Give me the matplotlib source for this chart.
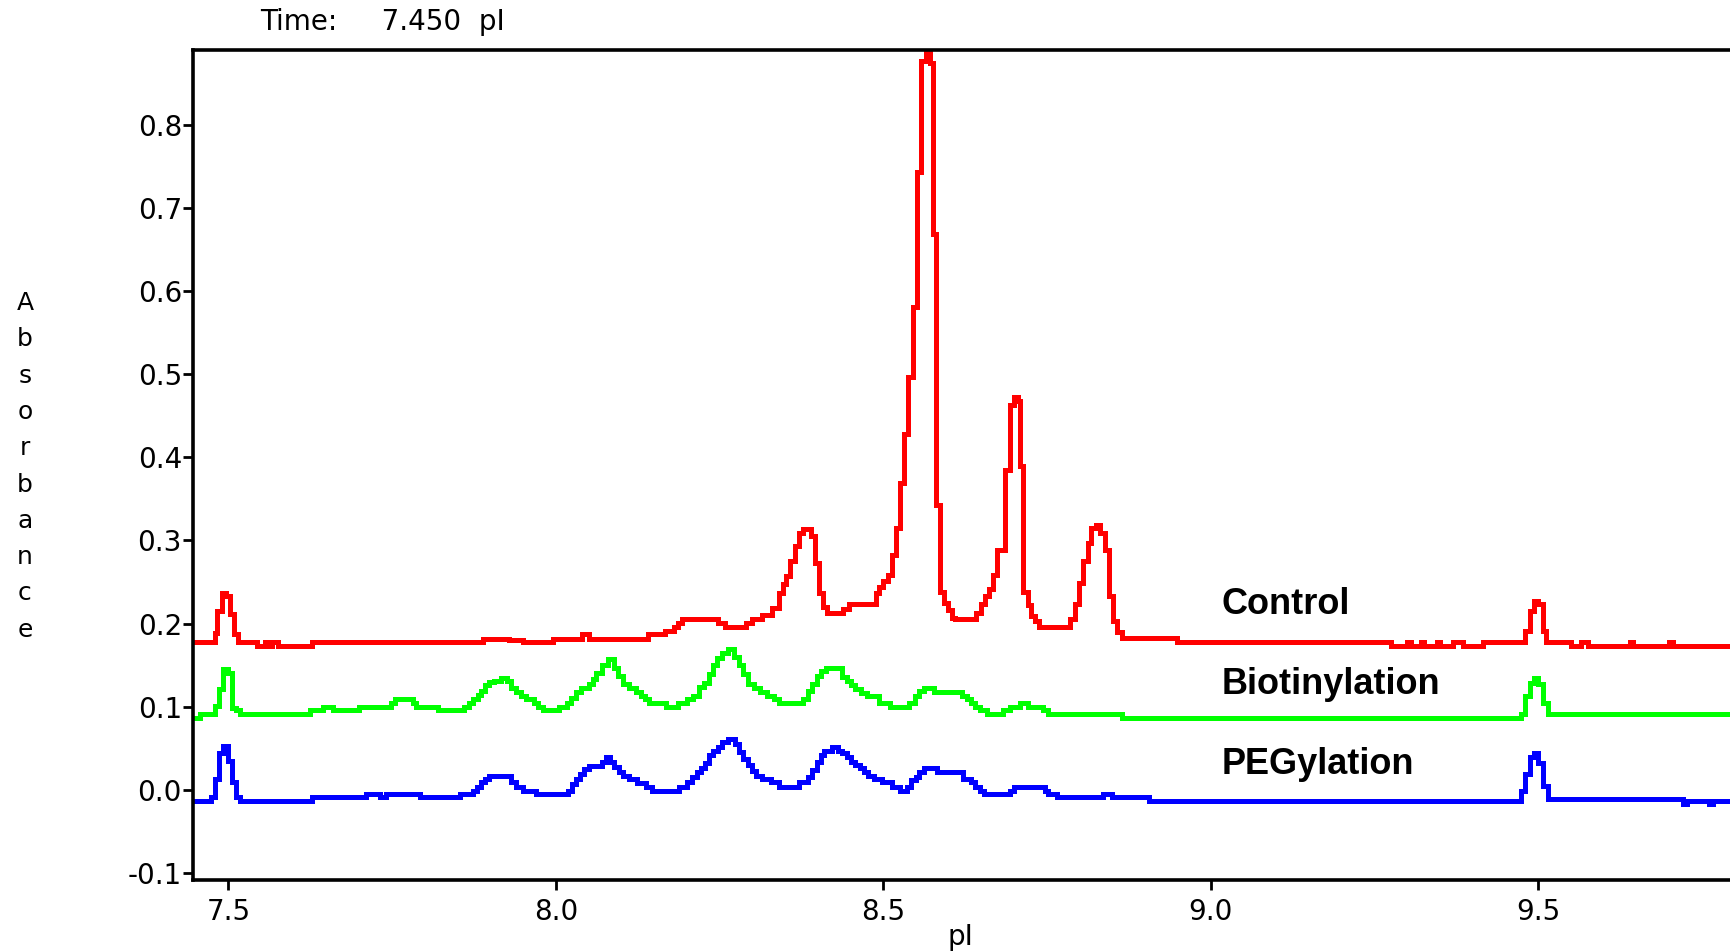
import matplotlib
matplotlib.use("Agg")
import matplotlib.pyplot as plt

#control trace (red), step values
control_pi = [
    7.446, 7.479, 7.483, 7.490, 7.496, 7.502, 7.509, 7.515,
    7.543, 7.556, 7.562, 7.567, 7.576, 7.627, 7.888, 7.929, 7.950,
    7.995, 8.040, 8.050, 8.140, 8.166, 8.180, 8.187, 8.193,
    8.248, 8.258, 8.290, 8.300, 8.315, 8.330, 8.340, 8.346,
    8.352, 8.358, 8.365, 8.371, 8.377, 8.389, 8.396, 8.402,
    8.408, 8.414, 8.438, 8.447, 8.488, 8.494, 8.500, 8.507,
    8.513, 8.519, 8.525, 8.532, 8.538, 8.545, 8.552, 8.558,
    8.565, 8.571, 8.575, 8.581, 8.587, 8.593, 8.599, 8.605,
    8.610, 8.642, 8.649, 8.655, 8.661, 8.667, 8.674, 8.686,
    8.693, 8.700, 8.706, 8.709, 8.713, 8.720, 8.726, 8.732,
    8.737, 8.785, 8.792, 8.798, 8.805, 8.812, 8.817, 8.824,
    8.831, 8.838, 8.844, 8.850, 8.857, 8.864, 8.948, 9.275,
    9.300, 9.305, 9.320, 9.325, 9.345, 9.350, 9.370, 9.385, 9.415,
    9.479, 9.487, 9.494, 9.500, 9.507, 9.512, 9.550, 9.565, 9.575,
    9.640, 9.645, 9.700, 9.705, 9.800]
control_abs = [
    0.178, 0.189, 0.215, 0.237, 0.233, 0.211, 0.187, 0.178,
    0.173, 0.178, 0.173, 0.178, 0.173, 0.178, 0.182, 0.180, 0.178,
    0.182, 0.187, 0.182, 0.187, 0.191, 0.196, 0.201, 0.205,
    0.201, 0.196, 0.201, 0.205, 0.210, 0.219, 0.237, 0.248,
    0.257, 0.275, 0.293, 0.309, 0.314, 0.305, 0.273, 0.237,
    0.220, 0.213, 0.218, 0.223, 0.237, 0.244, 0.251, 0.259,
    0.283, 0.315, 0.369, 0.428, 0.497, 0.581, 0.743, 0.877,
    0.895, 0.874, 0.669, 0.343, 0.238, 0.225, 0.216, 0.207,
    0.205, 0.213, 0.223, 0.233, 0.241, 0.259, 0.289, 0.385,
    0.463, 0.473, 0.468, 0.390, 0.238, 0.222, 0.209, 0.203,
    0.196, 0.206, 0.224, 0.249, 0.275, 0.297, 0.315, 0.319,
    0.309, 0.289, 0.233, 0.203, 0.190, 0.183, 0.178, 0.173,
    0.178, 0.173, 0.178, 0.173, 0.178, 0.173, 0.178, 0.173, 0.178,
    0.191, 0.215, 0.227, 0.224, 0.191, 0.178, 0.173, 0.178, 0.173,
    0.178, 0.173, 0.178, 0.173, 0.173]

#biotinylation trace (green)
biotin_pi = [
    7.446, 7.456, 7.479, 7.486, 7.492, 7.499, 7.505, 7.511, 7.517,
    7.624, 7.645, 7.660, 7.700, 7.749, 7.754, 7.782, 7.787, 7.820,
    7.860, 7.868, 7.874, 7.881, 7.886, 7.892, 7.898, 7.906,
    7.916, 7.925, 7.931, 7.939, 7.946, 7.954, 7.966, 7.972,
    7.980, 8.005, 8.017, 8.023, 8.031, 8.038, 8.051, 8.057,
    8.062, 8.070, 8.080, 8.089, 8.095, 8.102, 8.112, 8.122,
    8.130, 8.136, 8.142, 8.168, 8.186, 8.200, 8.210, 8.218,
    8.226, 8.234, 8.240, 8.246, 8.253, 8.262, 8.272, 8.280,
    8.286, 8.293, 8.302, 8.312, 8.323, 8.333, 8.340, 8.378,
    8.385, 8.391, 8.398, 8.404, 8.412, 8.437, 8.445, 8.451,
    8.457, 8.466, 8.475, 8.493, 8.510, 8.539, 8.549, 8.555,
    8.562, 8.577, 8.620, 8.628, 8.634, 8.640, 8.648, 8.658,
    8.683, 8.694, 8.709, 8.720, 8.744, 8.752, 8.864, 9.474,
    9.480, 9.487, 9.494, 9.500, 9.507, 9.514, 9.800]
biotin_abs = [
    0.086, 0.091, 0.101, 0.121, 0.145, 0.141, 0.098, 0.096, 0.091,
    0.096, 0.100, 0.096, 0.100, 0.105, 0.109, 0.105, 0.100, 0.096,
    0.100, 0.105, 0.109, 0.114, 0.119, 0.126, 0.130, 0.131,
    0.135, 0.131, 0.122, 0.118, 0.113, 0.109, 0.104, 0.100,
    0.096, 0.100, 0.105, 0.111, 0.118, 0.122, 0.127, 0.133,
    0.141, 0.150, 0.157, 0.146, 0.137, 0.127, 0.122, 0.118,
    0.113, 0.109, 0.105, 0.100, 0.105, 0.109, 0.113, 0.124,
    0.129, 0.139, 0.150, 0.159, 0.165, 0.169, 0.160, 0.150,
    0.139, 0.127, 0.122, 0.118, 0.113, 0.109, 0.104, 0.109,
    0.119, 0.127, 0.137, 0.143, 0.147, 0.136, 0.131, 0.126,
    0.121, 0.117, 0.113, 0.105, 0.100, 0.105, 0.113, 0.119,
    0.122, 0.118, 0.113, 0.109, 0.104, 0.100, 0.096, 0.091,
    0.096, 0.100, 0.105, 0.100, 0.096, 0.091, 0.086, 0.091,
    0.113, 0.129, 0.135, 0.127, 0.105, 0.091, 0.086]

#pegylation trace (blue)
peg_pi = [
    7.446, 7.474, 7.479, 7.486, 7.492, 7.499, 7.505, 7.511, 7.517,
    7.627, 7.710, 7.731, 7.741, 7.792, 7.853, 7.873, 7.879, 7.886,
    7.892, 7.898, 7.932, 7.939, 7.950, 7.970, 8.018, 8.025,
    8.031, 8.037, 8.043, 8.051, 8.071, 8.076, 8.082, 8.089,
    8.096, 8.102, 8.112, 8.124, 8.137, 8.147, 8.188, 8.200,
    8.208, 8.215, 8.221, 8.228, 8.234, 8.240, 8.247, 8.254,
    8.263, 8.273, 8.279, 8.286, 8.293, 8.300, 8.306, 8.315,
    8.329, 8.340, 8.371, 8.385, 8.391, 8.398, 8.404, 8.410,
    8.421, 8.431, 8.437, 8.444, 8.451, 8.457, 8.464, 8.470,
    8.477, 8.485, 8.498, 8.513, 8.526, 8.536, 8.542, 8.550,
    8.555, 8.562, 8.582, 8.621, 8.634, 8.640, 8.648, 8.653,
    8.693, 8.699, 8.746, 8.752, 8.765, 8.836, 8.849, 8.905,
    9.474, 9.480, 9.487, 9.494, 9.500, 9.507, 9.514, 9.720,
    9.727, 9.760, 9.766, 9.800]
peg_abs = [
    -0.013, -0.009, 0.013, 0.044, 0.053, 0.035, 0.009, -0.009, -0.013,
    -0.009, -0.005, -0.009, -0.005, -0.009, -0.005, -0.001, 0.003, 0.009,
    0.013, 0.017, 0.009, 0.003, -0.001, -0.005, -0.001, 0.007,
    0.013, 0.019, 0.025, 0.029, 0.033, 0.039, 0.034, 0.027,
    0.022, 0.017, 0.013, 0.008, 0.003, -0.001, 0.003, 0.009,
    0.015, 0.021, 0.026, 0.032, 0.042, 0.047, 0.052, 0.057,
    0.061, 0.055, 0.045, 0.037, 0.030, 0.023, 0.017, 0.013,
    0.009, 0.003, 0.009, 0.015, 0.024, 0.033, 0.042, 0.047,
    0.052, 0.047, 0.044, 0.039, 0.034, 0.030, 0.026, 0.022,
    0.017, 0.013, 0.009, 0.003, -0.001, 0.003, 0.012, 0.016,
    0.021, 0.026, 0.022, 0.013, 0.009, 0.003, -0.001, -0.005,
    -0.001, 0.003, -0.001, -0.005, -0.009, -0.005, -0.009, -0.013,
    -0.001, 0.019, 0.039, 0.044, 0.032, 0.005, -0.011, -0.017,
    -0.013, -0.017, -0.013, -0.013]

x_ticks = [7.5, 8.0, 8.5, 9.0, 9.5]
x_labels = ["7.5", "8.0", "8.5", "9.0", "9.5"]
y_ticks = [-0.1, 0.0, 0.1, 0.2, 0.3, 0.4, 0.5, 0.6, 0.7, 0.8]
y_labels = ["-0.1", "0.0", "0.1", "0.2", "0.3", "0.4", "0.5", "0.6", "0.7", "0.8"]

series_names = ["Control", "Biotinylation", "PEGylation"]
label_y = [0.211, 0.115, 0.019]   #baseline of each trace label


def plot_ief():
    W, H = 1731, 951
    fig = plt.figure(figsize=(W / 100, H / 100), dpi=100)
    #axes box: left spine x=193px, top y=50px, bottom y=880px, runs off the right edge
    ax = fig.add_axes([193 / W, 1 - 880 / H, 1 - 193 / W, 830 / H])

    traces = [(control_pi, control_abs, "#ff0000"),
              (biotin_pi, biotin_abs, "#00ff00"),
              (peg_pi, peg_abs, "#0000ff")]
    for xs, ys, col in traces:
        ax.plot(xs, ys, drawstyle="steps-post", color=col, lw=2.2,
                antialiased=False, solid_joinstyle="miter")

    ax.set_xlim(7.446, 9.794)
    ax.set_ylim(-0.1085, 0.890)

    ax.set_xticks(x_ticks)
    ax.set_xticklabels(x_labels)
    ax.set_yticks(y_ticks)
    ax.set_yticklabels(y_labels)
    ax.tick_params(axis="both", direction="out", length=7, width=2,
                   labelsize=20, colors="black")
    ax.tick_params(axis="y", pad=1)
    ax.tick_params(axis="x", pad=6)

    for side in ["left", "top", "bottom"]:
        ax.spines[side].set_linewidth(2.6)
        ax.spines[side].set_color("black")
    ax.spines["right"].set_visible(False)

    #x label sits just under the tick labels, partly cut by the figure edge
    ax.set_xlabel("pI", fontsize=20)
    ax.xaxis.set_label_coords(0.4987, -0.052)
    ax.xaxis.label.set_va("top")

    #trace labels
    for name, yv in zip(series_names, label_y):
        ax.text(9.016, yv, name, fontsize=26, fontweight="bold",
                family="Liberation Sans", va="baseline", ha="left")

    #vertical stacked y label, one letter per line
    word = "Absorbance"
    for i, ch in enumerate(word):
        ybase = 310 + i * 36.3
        fig.text(25 / W, 1 - ybase / H, ch, fontsize=18, ha="center", va="baseline")

    #cursor readout above the plot
    fig.text(260 / W, 1 - 22 / H, "Time:     7.450  pI", fontsize=20,
             ha="left", va="center")

    fig.savefig("out.png", dpi=100)


if __name__ == "__main__":
    plot_ief()
